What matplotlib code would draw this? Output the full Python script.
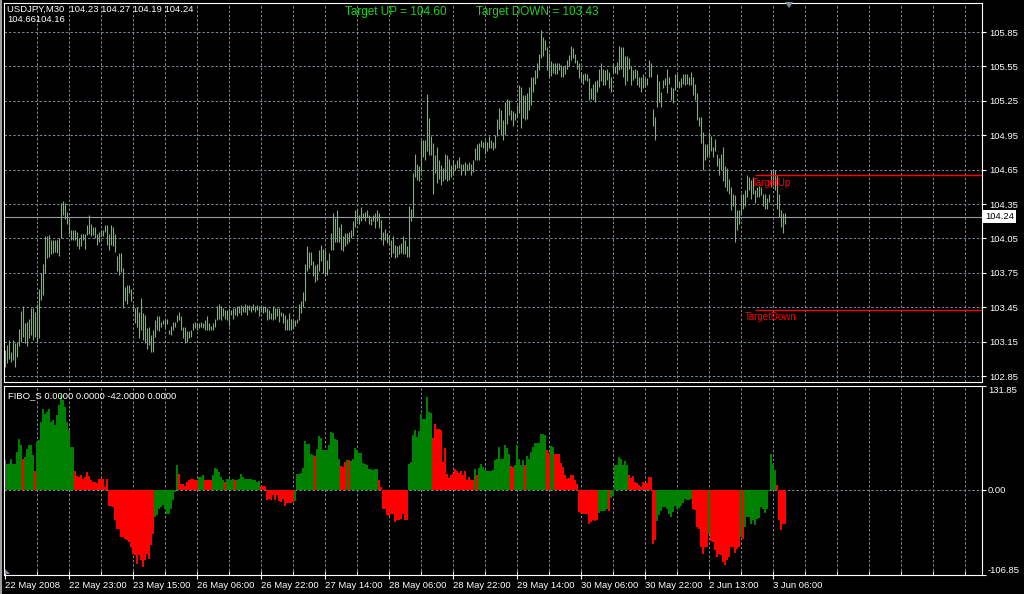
import matplotlib.pyplot as plt
from matplotlib.patches import Polygon, Rectangle

# USDJPY M30 bars (high / low), one per bar
bar_high = [
    103.08, 103.12, 103.16, 103.06, 103.16, 103.14, 103.15, 103.26, 103.42, 103.46,
    103.31, 103.32, 103.35, 103.44, 103.44, 103.41, 103.48, 103.61, 103.75, 103.83,
    104.07, 104.07, 104.08, 104.04, 104.04, 104.04, 104.04, 104.05, 104.36, 104.38,
    104.36, 104.28, 104.22, 104.12, 104.12, 104.12, 104.11, 104.05, 104.09, 104.09,
    104.09, 104.17, 104.25, 104.18, 104.15, 104.15, 104.09, 104.11, 104.12, 104.12,
    104.17, 104.17, 104.09, 104.17, 104.15, 104.09, 103.90, 103.92, 103.92, 103.79,
    103.63, 103.64, 103.64, 103.61, 103.48, 103.44, 103.45, 103.41, 103.53, 103.40,
    103.38, 103.27, 103.28, 103.21, 103.25, 103.34, 103.37, 103.37, 103.32, 103.34,
    103.35, 103.35, 103.25, 103.29, 103.32, 103.32, 103.38, 103.41, 103.37, 103.28,
    103.28, 103.24, 103.24, 103.25, 103.31, 103.32, 103.31, 103.31, 103.32, 103.31,
    103.34, 103.37, 103.31, 103.29, 103.31, 103.35, 103.46, 103.48, 103.46, 103.44,
    103.43, 103.43, 103.44, 103.43, 103.44, 103.44, 103.46, 103.46, 103.47, 103.46,
    103.48, 103.47, 103.47, 103.46, 103.48, 103.46, 103.47, 103.46, 103.46, 103.46,
    103.46, 103.44, 103.43, 103.40, 103.46, 103.44, 103.44, 103.44, 103.41, 103.40,
    103.38, 103.35, 103.40, 103.35, 103.34, 103.34, 103.35, 103.48, 103.50,
    103.58, 103.83, 103.98, 103.93, 103.93, 103.85, 103.82, 103.83, 103.95, 103.99,
    103.96, 103.95, 103.86, 103.92, 104.10, 104.27, 104.23, 104.30, 104.15, 104.18,
    104.07, 104.10, 104.10, 104.11, 104.12, 104.20, 104.30, 104.31, 104.25, 104.32,
    104.27, 104.28, 104.30, 104.25, 104.23, 104.25, 104.27, 104.30, 104.27, 104.21,
    104.11, 104.13, 104.10, 104.08, 104.04, 104.07, 103.99, 103.98, 103.99, 104.01,
    104.07, 104.04, 103.98, 104.33, 104.31, 104.62, 104.79, 104.70, 104.68, 104.91,
    104.91, 104.91, 105.31, 105.10, 104.94, 104.88, 104.78, 104.85, 104.73, 104.69,
    104.66, 104.79, 104.78, 104.74, 104.69, 104.73, 104.70, 104.73, 104.76, 104.70,
    104.70, 104.72, 104.70, 104.72, 104.70, 104.73, 104.84, 104.87, 104.88, 104.91,
    104.89, 104.91, 104.89, 104.94, 104.91, 104.89, 104.95, 105.09, 105.19, 105.17,
    105.08, 105.24, 105.27, 105.26, 105.17, 105.16, 105.14, 105.21, 105.39, 105.37,
    105.30, 105.30, 105.32, 105.37, 105.46, 105.46, 105.52, 105.58, 105.66, 105.87,
    105.81, 105.78, 105.72, 105.67, 105.60,
    105.58, 105.58, 105.58, 105.58, 105.56, 105.55, 105.56, 105.61, 105.65, 105.73,
    105.71, 105.66, 105.61, 105.58, 105.50, 105.48, 105.49, 105.48, 105.45, 105.36,
    105.40, 105.42, 105.43, 105.53, 105.58, 105.53, 105.52, 105.53, 105.50, 105.46,
    105.58, 105.55, 105.59, 105.73, 105.72, 105.72, 105.64, 105.64, 105.62, 105.55,
    105.52, 105.53, 105.52, 105.46, 105.46, 105.48, 105.45, 105.45, 105.61, 105.58,
    105.18, 105.11, 105.48, 105.42, 105.33, 105.43, 105.45, 105.53, 105.46, 105.37,
    105.36, 105.48, 105.48, 105.42, 105.45, 105.48, 105.48, 105.48, 105.46, 105.50,
    105.46, 105.40, 105.32, 105.11, 105.11, 104.98, 104.87, 104.87, 104.98, 104.94,
    104.85, 104.92, 104.79, 104.75, 104.79, 104.85, 104.68, 104.66, 104.57, 104.50,
    104.44, 104.43, 104.30, 104.30, 104.44, 104.44, 104.47, 104.60, 104.59, 104.56,
    104.59, 104.47, 104.50, 104.51, 104.50, 104.44, 104.44, 104.40, 104.44, 104.65,
    104.65, 104.65, 104.60, 104.44, 104.30, 104.27, 104.27,
]
bar_low = [
    102.93, 102.96, 103.00, 102.97, 102.99, 102.93, 103.02, 103.11, 103.15, 103.19,
    103.14, 103.11, 103.18, 103.21, 103.16, 103.19, 103.14, 103.18, 103.51, 103.56,
    103.75, 103.88, 103.89, 103.91, 103.92, 103.93, 103.92, 103.90, 104.05, 104.25,
    104.22, 104.18, 104.09, 104.04, 104.04, 104.04, 103.98, 103.96, 103.98, 104.04,
    103.96, 104.08, 104.09, 104.07, 104.08, 104.05, 103.99, 104.02, 104.07, 104.07,
    104.11, 103.99, 103.95, 103.99, 103.98, 103.93, 103.77, 103.73, 103.76, 103.44,
    103.50, 103.48, 103.57, 103.50, 103.43, 103.31, 103.28, 103.18, 103.25, 103.16,
    103.14, 103.09, 103.12, 103.06, 103.06, 103.19, 103.25, 103.24, 103.28, 103.30,
    103.28, 103.30, 103.22, 103.21, 103.25, 103.28, 103.32, 103.34, 103.25, 103.18,
    103.14, 103.15, 103.18, 103.19, 103.25, 103.27, 103.25, 103.27, 103.28, 103.27,
    103.25, 103.25, 103.25, 103.25, 103.25, 103.28, 103.34, 103.35, 103.34, 103.37,
    103.35, 103.34, 103.29, 103.38, 103.35, 103.38, 103.37, 103.40, 103.38, 103.41,
    103.41, 103.38, 103.43, 103.41, 103.43, 103.41, 103.43, 103.37, 103.41, 103.40,
    103.41, 103.34, 103.35, 103.35, 103.34, 103.35, 103.37, 103.32, 103.37, 103.31,
    103.25, 103.25, 103.25, 103.25, 103.27, 103.29, 103.31, 103.34, 103.40,
    103.45, 103.50, 103.77, 103.79, 103.82, 103.72, 103.67, 103.69, 103.77, 103.85,
    103.75, 103.73, 103.73, 103.78, 103.95, 103.95, 104.02, 104.02, 104.02, 103.95,
    103.94, 103.98, 104.00, 104.02, 104.05, 104.07, 104.15, 104.20, 104.18, 104.20,
    104.23, 104.20, 104.24, 104.18, 104.17, 104.20, 104.14, 104.20, 104.14, 104.04,
    103.99, 104.04, 104.01, 103.99, 103.89, 103.92, 103.88, 103.89, 103.91, 103.92,
    103.91, 103.91, 103.89, 103.89, 104.20, 104.24, 104.59, 104.56, 104.55, 104.63,
    104.76, 104.73, 104.81, 104.78, 104.78, 104.44, 104.62, 104.53, 104.57, 104.52,
    104.55, 104.57, 104.55, 104.56, 104.59, 104.60, 104.65, 104.66, 104.66, 104.60,
    104.65, 104.60, 104.65, 104.65, 104.60, 104.63, 104.73, 104.73, 104.73, 104.85,
    104.84, 104.79, 104.81, 104.84, 104.84, 104.82, 104.84, 104.94, 105.00, 104.95,
    104.91, 104.95, 105.05, 105.13, 105.08, 105.03, 105.08, 105.11, 105.14, 105.01,
    105.10, 105.08, 105.09, 105.17, 105.21, 105.33, 105.40, 105.45, 105.52, 105.62,
    105.64, 105.69, 105.52, 105.46, 105.47,
    105.49, 105.48, 105.48, 105.52, 105.46, 105.46, 105.48, 105.53, 105.55, 105.61,
    105.62, 105.58, 105.53, 105.45, 105.42, 105.40, 105.43, 105.42, 105.26, 105.27,
    105.26, 105.24, 105.33, 105.37, 105.42, 105.39, 105.39, 105.43, 105.36, 105.33,
    105.49, 105.49, 105.48, 105.52, 105.53, 105.46, 105.39, 105.42, 105.53, 105.39,
    105.43, 105.45, 105.39, 105.37, 105.33, 105.36, 105.37, 105.39, 105.46, 105.46,
    105.03, 104.91, 105.20, 105.24, 105.20, 105.36, 105.39, 105.32, 105.40, 105.26,
    105.23, 105.34, 105.37, 105.36, 105.37, 105.40, 105.39, 105.40, 105.39, 105.39,
    105.30, 105.26, 105.08, 105.03, 104.88, 104.65, 104.73, 104.76, 104.78, 104.81,
    104.76, 104.81, 104.68, 104.60, 104.65, 104.55, 104.50, 104.46, 104.44, 104.30,
    104.33, 104.02, 104.12, 104.18, 104.25, 104.31, 104.33, 104.41, 104.47, 104.39,
    104.44, 104.36, 104.41, 104.41, 104.43, 104.33, 104.31, 104.31, 104.37, 104.50,
    104.52, 104.47, 104.31, 104.24, 104.15, 104.10, 104.18,
]

# FIBO_S histogram, one value per bar; G = green (rising), R = red (falling)
fibo_value = [
    37.9, 32.8, 32.8, 40.0, 32.8, 32.8, 48.4, 65.2, 56.8, 40.0,
    42.1, 52.6, 56.8, 56.8, 44.2, 24.4, 61.0, 63.1, 86.3, 103.1,
    96.8, 98.9, 103.1, 86.3, 88.4, 82.1, 94.7, 107.3, 119.9, 113.6,
    105.2, 86.3, 75.8, 54.7, 54.7, 24.4, 17.7, 16.8, 18.9, 14.7,
    16.8, 23.1, 17.7, 12.6, 10.5, 10.5, 9.7, 13.9, 13.9, 13.9,
    4.2, 14.7, -20.2, -20.2, -21.0, -37.9, -48.4, -48.4, -58.9, -58.9,
    -61.0, -63.1, -65.2, -71.5, -79.9, -82.1, -92.6, -82.1, -88.4, -96.8,
    -88.4, -79.9, -86.3, -69.4, -54.7, -33.7, -31.6, -23.1, -21.0, -18.9,
    -23.1, -29.5, -29.5, -23.1, -11.8, -2.1, 31.6, 21.0, 8.4, 8.4,
    5.1, 10.5, 12.6, 14.7, 14.7, 12.6, 13.5, 16.8, 16.8, 18.9,
    13.5, 13.5, 13.5, 12.6, 18.9, 28.6, 27.4, 23.1, 16.8, 12.6,
    10.5, 14.7, 14.7, 13.5, 14.7, 12.6, 13.5, 14.7, 20.2, 16.8,
    14.7, 14.7, 14.7, 13.9, 12.6, 12.6, 10.5, 11.4, 5.1, 5.1,
    5.1, -12.6, -10.5, -12.6, -6.3, -12.6, -6.3, -13.5, -14.7, -10.5,
    -20.2, -16.0, -16.0, -16.0, -14.7, -13.5, 20.2,
    21.0, 21.9, 28.2, 61.9, 58.9, 58.9, 46.3, 44.2, 42.9, 51.8,
    68.2, 66.1, 50.5, 50.5, 50.5, 57.7, 73.7, 72.8, 64.4, 63.1,
    40.0, 30.3, 29.5, 35.8, 37.9, 37.9, 36.6, 40.0, 53.5, 50.5,
    47.1, 47.1, 34.9, 33.7, 32.4, 26.5, 26.5, 25.3, 27.4, 27.4,
    13.5, 4.2, -24.0, -24.0, -30.7, -32.8, -29.5, -29.5, -40.0, -37.0,
    -37.9, -35.8, -29.5, -37.9, -37.9, 32.8, 35.8, 70.3, 75.8, 67.3,
    74.5, 96.8, 90.5, 90.5, 117.8, 98.9, 98.1, 66.1, 84.2, 77.9,
    77.9, 75.8, 35.8, 53.5, 21.0, 15.6, 19.8, 22.3, 27.4, 24.0,
    21.9, 24.0, 19.8, 24.0, 13.5, 16.8, 12.6, 12.6, 27.4, 18.9,
    28.2, 33.7, 29.5, 25.3, 24.0, 24.0, 24.0, 25.3, 37.9, 39.1,
    54.7, 40.0, 40.0, 56.8, 53.5, 46.3, 30.3, 29.5, 31.6, 56.8,
    40.0, 32.4, 37.9, 32.4, 42.9, 39.1, 48.4, 54.7, 60.2, 60.2,
    60.2, 71.5, 70.7, 69.4, 51.3, 47.1,
    55.6, 54.7, 46.3, 45.5, 46.3, 34.9, 29.5, 18.9, 14.7, 15.6,
    18.9, 18.9, 13.5, 7.6, -27.4, -28.6, -29.5, -30.3, -30.3, -42.1,
    -40.0, -37.0, -39.1, -37.9, -28.6, -26.5, -26.5, -26.5, -24.0, -26.5,
    -9.7, -7.2, 31.6, 31.6, 42.1, 39.1, 32.4, 36.6, 31.6, 18.9,
    15.6, 18.1, 10.5, 9.7, 6.3, 4.2, 10.5, 9.3, 9.3, 16.8,
    16.8, -68.2, -63.1, -39.1, -31.6, -26.5, -21.0, -21.0, -24.0, -29.5,
    -33.7, -27.4, -19.8, -23.1, -22.3, -19.8, -15.6, -10.5, -12.6, -12.6,
    -11.4, -23.1, -24.4, -46.3, -48.4, -71.5, -80.8, -71.5, -71.5, -54.7,
    -64.4, -65.2, -75.8, -84.2, -80.0, -82.1, -90.5, -94.7, -88.4, -84.2,
    -71.5, -71.5, -78.7, -73.7, -71.5, -58.9, -61.9, -46.3, -33.7, -33.7,
    -42.1, -37.9, -43.4, -35.8, -34.9, -21.0, -24.0, -28.2, -24.0, -1.3,
    45.5, 32.8, 25.3, 6.3, -37.9, -50.5, -42.9, -42.9,
]
fibo_color = (
    "GGGGGGGGGR" "GGGGGRGGGG" "GGGGGGGGGG" "GGGGGRRRRR" "RRRRRRRRRR"
    "RRRRRRRRRR" "RRRRRRRRRR" "RRRRRGGGGG" "GGGGGGGRRR" "RRRRRRRGGG"
    "RRRRGGGGGG" "RGGGGRGGGG" "GGGGGGGGRR" "RRRRRRRRRR" "RRRRRGGGGG"
    "GGGGGRGGGG" "GGGGGGGGRR" "RGRGGGGGGG" "GGGGGGGRRR" "RRRRRRRRRR"
    "RRGGGGGGGG" "GGGGRRRRRR" "RRRRRRRRRR" "RRRRRGRGGG" "GGGGGGGGGG"
    "GGGRRGGGGG" "RGGGGGGGGG" "GRRGGRRRRR" "RRRRRRRRRR" "RRRRRRRGGG"
    "GGRGGGGGGG" "GGRRRRRRRR" "RRRRRRGGGG" "GGGGGGGGGG" "GGGGRRRRRR"
    "RRGRRRRRRR" "RRRRRRRRGR" "GGGGGGGGGG" "GGGGGGRRRR" "R"
)

price_ticks = [102.85, 103.15, 103.45, 103.75, 104.05, 104.35,
               104.65, 104.95, 105.25, 105.55, 105.85]
time_labels = ["22 May 2008", "22 May 23:00", "23 May 15:00", "26 May 06:00",
               "26 May 22:00", "27 May 14:00", "28 May 06:00", "28 May 22:00",
               "29 May 14:00", "30 May 06:00", "30 May 22:00", "2 Jun 13:00",
               "3 Jun 06:00"]
last_close = 104.24
target_up = 104.60
target_down = 103.43
target_start = 375
fibo_top, fibo_bottom = 131.85, -106.85

W, H = 1024, 594
BG = 'black'
GRID = '#778899'
BAR = '#3cdc3c'
FS = 6.8
plt.rcParams['font.family'] = ['Liberation Sans', 'DejaVu Sans']

fig = plt.figure(figsize=(W / 100, H / 100), dpi=100, facecolor=BG)
ax = fig.add_axes([4 / W, 1 - 382 / H, 978 / W, 379 / H], facecolor=BG)
ax2 = fig.add_axes([4 / W, 1 - 575 / H, 978 / W, 189 / H], facecolor=BG)

n = len(bar_high)
xs = list(range(n))
dash = (0, (2.4, 2.0))

for a in (ax, ax2):
    a.set_xlim(-0.5, 488.5)
    for s in a.spines.values():
        s.set_color('white')
        s.set_linewidth(0.8)
    for g in range(16, 489, 16):
        a.axvline(g, color=GRID, lw=0.72, ls=dash, zorder=0)

# price panel
ax.set_ylim(102.798, 106.103)
for p in price_ticks:
    ax.axhline(p, color=GRID, lw=0.72, ls=dash, zorder=0)
ax.vlines(xs, bar_low, bar_high, color=BAR, lw=0.8, zorder=3)
ax.axhline(last_close, color='#9a9aa4', lw=0.8, zorder=2)
ax.hlines([target_up, target_down], target_start, 488.5, color='#ff0000', lw=1.0, zorder=4)
ax.text(383, target_up - 0.025, 'TargetUp', color='#ff0000', fontsize=7,
        ha='center', va='top', zorder=5)
ax.text(383, target_down - 0.025, 'TargetDown', color='#ff0000', fontsize=7,
        ha='center', va='top', zorder=5)
ax.set_xticks([])
ax.yaxis.tick_right()
ax.set_yticks(price_ticks)
ax.set_yticklabels([f'{p:.2f}' for p in price_ticks])
ax.tick_params(axis='y', colors='white', labelsize=FS, length=3, pad=2.5, width=0.8)
ax.text(1.003, last_close, '104.24', transform=ax.get_yaxis_transform(),
        color='black', fontsize=FS, ha='left', va='center', zorder=6,
        bbox=dict(facecolor='white', edgecolor='none', pad=1.5), clip_on=False)
ax.text(0.003, 0.995, 'USDJPY,M30  104.23 104.27 104.19 104.24\n104.66104.16',
        transform=ax.transAxes, color='white', fontsize=FS, ha='left', va='top',
        linespacing=1.1)

# indicator panel
colors = ['#008000' if c == 'G' else '#ff0000' for c in fibo_color]
ax2.set_ylim(fibo_bottom, fibo_top)
ax2.axhline(0, color=GRID, lw=0.72, ls=dash, zorder=0)
ax2.bar(xs, fibo_value, width=1.0, color=colors, linewidth=0, zorder=2)
ax2.yaxis.tick_right()
ax2.set_yticks([fibo_top, 0, fibo_bottom])
ax2.set_yticklabels([])
ax2.tick_params(axis='y', colors='white', length=3, width=0.8)
for v, lab, va in [(fibo_top, '131.85', 'top'), (0, '0.00', 'center'),
                   (fibo_bottom, '-106.85', 'bottom')]:
    ax2.text(1.006, v, lab, transform=ax2.get_yaxis_transform(), color='white',
             fontsize=FS, ha='left', va=va, clip_on=False)
ax2.text(0.004, 0.975, 'FIBO_S 0.0000 0.0000 -42.0000 0.0000',
         transform=ax2.transAxes, color='white', fontsize=FS, ha='left', va='top')

major = list(range(0, 32 * len(time_labels), 32))
minor = [t for t in range(16, 489, 16) if t not in major]
ax2.set_xticks(major)
ax2.set_xticklabels(time_labels)
ax2.set_xticks(minor, minor=True)
for lbl in ax2.get_xticklabels():
    lbl.set_ha('left')
ax2.tick_params(axis='x', which='major', colors='white', labelsize=FS,
                length=6, direction='inout', pad=1.5, width=0.8)
ax2.tick_params(axis='x', which='minor', colors='white', length=3,
                direction='in', width=0.8)

# header targets
fig.text(345 / W, 1 - 12 / H, 'Target UP = 104.60', color='#1ed21e',
         fontsize=8.5, ha='left', va='center')
fig.text(476 / W, 1 - 12 / H, 'Target DOWN = 103.43', color='#1ed21e',
         fontsize=8.5, ha='left', va='center')

# window decorations
fig.add_artist(Rectangle((0, 0), 2 / W, 1, transform=fig.transFigure,
                         facecolor='#a0a0a0', edgecolor='none'))
fig.add_artist(Polygon([(785 / W, 1 - 2 / H), (793 / W, 1 - 2 / H), (789 / W, 1 - 8 / H)],
                       closed=True, transform=fig.transFigure,
                       facecolor='#8090a0', edgecolor='none'))
fig.add_artist(Polygon([(5 / W, 1 - 569 / H), (5 / W, 1 - 574 / H), (10 / W, 1 - 574 / H)],
                       closed=True, transform=fig.transFigure,
                       facecolor='#8090a0', edgecolor='none'))

fig.savefig('out.png', dpi=100, facecolor=BG)
